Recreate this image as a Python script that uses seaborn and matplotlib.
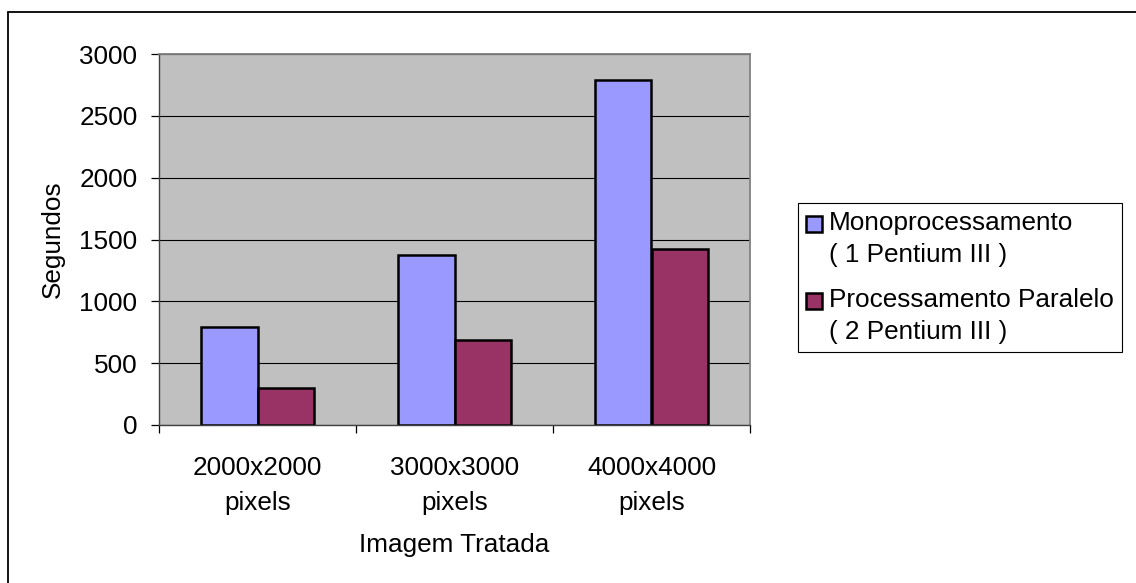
import matplotlib
matplotlib.use("Agg")
import matplotlib.pyplot as plt
import numpy as np
import pandas as pd
import seaborn as sns
from matplotlib.lines import Line2D
from matplotlib.patches import Patch, Rectangle
from matplotlib.legend_handler import HandlerPatch

# data
categorias = ["2000x2000\npixels", "3000x3000\npixels", "4000x4000\npixels"]
series = ["Monoprocessamento\n( 1 Pentium III )", "Processamento Paralelo\n( 2 Pentium III )"]
mono = [795, 1375, 2790]
paralelo = [298, 690, 1426]
cores = ["#9999FF", "#993366"]
y_ticks = [0, 500, 1000, 1500, 2000, 2500, 3000]


def square_on_first_line(legend, orig_handle, xdescent, ydescent, width, height, fontsize):
    # small square sitting beside the first line of a two-line label
    side = 0.63 * fontsize
    return Rectangle((-xdescent, -ydescent + height - side + 0.16 * fontsize), side, side)


def main():
    df = pd.DataFrame({
        "imagem": categorias * 2,
        "serie": [series[0]] * 3 + [series[1]] * 3,
        "segundos": mono + paralelo,
    })

    sns.set_style("white")
    plt.rcParams["font.family"] = ["Liberation Sans", "DejaVu Sans"]
    for key in ["text.color", "axes.labelcolor", "xtick.color", "ytick.color"]:
        plt.rcParams[key] = "black"
    fs = 18.8

    W, H = 1136, 583
    fig = plt.figure(figsize=(W / 100, H / 100), dpi=100)
    ax = fig.add_axes([159 / W, 1 - 425 / H, (750 - 159) / W, (425 - 54) / H])
    ax.set_facecolor("#C0C0C0")

    sns.barplot(
        data=df, x="imagem", y="segundos", hue="serie", order=categorias,
        hue_order=series, palette=cores, width=0.571, gap=0,
        edgecolor="black", linewidth=1.8, saturation=1, legend=False, ax=ax,
    )

    ax.set_xlim(-0.5, 2.5)
    ax.set_ylim(0, 3000)
    ax.set_yticks(y_ticks)
    ax.set_yticklabels([str(v) for v in y_ticks], fontsize=fs)
    ax.tick_params(axis="y", length=6, width=0.9, color="black", pad=9.5, left=True)
    ax.set_xticks(range(len(categorias)))
    ax.set_xticklabels(categorias, fontsize=fs, linespacing=1.62)
    ax.tick_params(axis="x", which="major", length=0, pad=22)
    ax.set_xticks([-0.5, 0.5, 1.5, 2.5], minor=True)
    ax.tick_params(axis="x", which="minor", length=6, width=0.9, color="black", bottom=True)

    ax.yaxis.grid(True, color="black", linewidth=0.8)
    ax.set_axisbelow(True)
    for side in ["top", "right"]:
        ax.spines[side].set_visible(True)
        ax.spines[side].set_color("#808080")
        ax.spines[side].set_linewidth(1.3)
    for side in ["left", "bottom"]:
        ax.spines[side].set_color("#404040")
        ax.spines[side].set_linewidth(1.0)

    ax.set_xlabel("Imagem Tratada", fontsize=fs, labelpad=13)
    ax.set_ylabel("Segundos", fontsize=fs, labelpad=10)

    handles = [Patch(facecolor=c, edgecolor="black", linewidth=1.8) for c in cores]
    leg = ax.legend(
        handles, series, loc="upper left",
        bbox_to_anchor=(798 / W, 1 - 203 / H), bbox_transform=fig.transFigure,
        borderaxespad=0, fontsize=fs, frameon=True, fancybox=False,
        framealpha=1, edgecolor="black", handlelength=0.7, handleheight=2.0,
        handletextpad=0.2, borderpad=0.3, labelspacing=0.8,
        handler_map={Patch: HandlerPatch(patch_func=square_on_first_line)},
    )
    leg.get_frame().set_linewidth(0.8)
    for t in leg.get_texts():
        t.set_linespacing(1.42)

    # outer chart border (only top and left edges are visible in the crop)
    fig.add_artist(Line2D([8 / W, 1], [1 - 12 / H] * 2, transform=fig.transFigure,
                          color="black", linewidth=1.3))
    fig.add_artist(Line2D([8 / W] * 2, [0, 1 - 12 / H], transform=fig.transFigure,
                          color="black", linewidth=1.3))

    fig.savefig("out.png", dpi=100)
    plt.close(fig)


if __name__ == "__main__":
    main()
